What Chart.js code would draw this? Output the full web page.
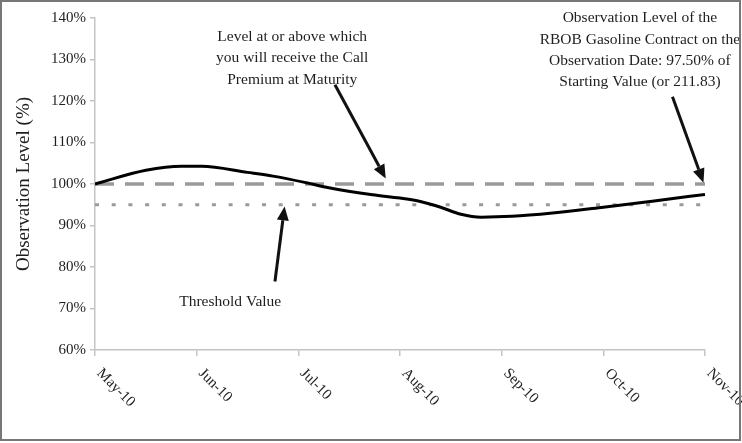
<!DOCTYPE html>
<html>
<head>
<meta charset="utf-8">
<script src="https://cdn.jsdelivr.net/npm/chart.js@4.4.1/dist/chart.umd.min.js"></script>
<style>
  html, body { margin: 0; padding: 0; background: #fff; }
  #wrap { position: relative; width: 742px; height: 443px; }
</style>
</head>
<body>
<div id="wrap"><canvas id="c" width="742" height="443"></canvas></div>
<script>
// ---- Data (x = months since May-10) ----
const xTickLabels = ['May-10', 'Jun-10', 'Jul-10', 'Aug-10', 'Sep-10', 'Oct-10', 'Nov-10'];
const obsMonths = [0, 0.5, 0.85, 1.05, 1.5, 1.75, 2.08, 2.3, 2.73, 3.0, 3.2, 3.4, 3.6, 3.8, 4.1, 4.5, 5.0, 5.5, 6.0];
const obsLevels = [100, 103.3, 104.3, 104.3, 102.8, 101.9, 100.3, 99.1, 97.4, 96.6, 95.8, 94.4, 92.7, 92.0, 92.2, 93.0, 94.4, 95.9, 97.5];
const callPremiumLevel = 100;
const thresholdLevel = 95;
const yTicks = [60, 70, 80, 90, 100, 110, 120, 130, 140];

// Annotations in data space (months, %)
const notes = [
  { lines: ['Level at or above which', 'you will receive the Call', 'Premium at Maturity'], x: 1.94, y: [135.4, 130.3, 125.1],
    arrow: { from: [2.36, 123.9], to: [2.86, 101.3] } },
  { lines: ['Observation Level of the', 'RBOB Gasoline Contract on the', 'Observation Date: 97.50% of', 'Starting Value (or 211.83)'], x: 5.36, y: [140.0, 134.8, 129.7, 124.6],
    arrow: { from: [5.68, 121.0], to: [5.985, 100.3] } },
  { lines: ['Threshold Value'], x: 1.33, y: [71.6],
    arrow: { from: [1.77, 76.5], to: [1.865, 94.6] } }
];

const serif = "'Liberation Serif', 'Times New Roman', serif";
const textColor = '#1e1e1e';

const obsData = obsMonths.map((m, i) => ({ x: m, y: obsLevels[i] }));
const flat = v => [{ x: 0, y: v }, { x: xTickLabels.length - 1, y: v }];

const overlay = {
  id: 'overlay',
  afterDraw(chart) {
    const ctx = chart.ctx, xs = chart.scales.x, ys = chart.scales.y;
    ctx.save();
    // x labels rotated down-right
    ctx.fillStyle = textColor;
    ctx.font = "15px " + serif;
    ctx.textAlign = 'left';
    ctx.textBaseline = 'middle';
    xTickLabels.forEach((lab, i) => {
      const px = xs.getPixelForValue(i);
      ctx.save();
      ctx.translate(px + 4, xs.top + 21);
      ctx.rotate(Math.PI / 4);
      ctx.fillText(lab, 0, 0);
      ctx.restore();
    });
    // notes
    ctx.font = "15.5px " + serif;
    ctx.textAlign = 'center';
    notes.forEach(n => {
      ctx.fillStyle = textColor;
      const cx = xs.getPixelForValue(n.x);
      n.lines.forEach((t, k) => ctx.fillText(t, cx, ys.getPixelForValue(n.y[k])));
      const x1 = xs.getPixelForValue(n.arrow.from[0]), y1 = ys.getPixelForValue(n.arrow.from[1]);
      const x2 = xs.getPixelForValue(n.arrow.to[0]), y2 = ys.getPixelForValue(n.arrow.to[1]);
      const ang = Math.atan2(y2 - y1, x2 - x1);
      const hl = 14, hw = 6;
      const bx = x2 - hl * Math.cos(ang), by = y2 - hl * Math.sin(ang);
      ctx.strokeStyle = '#111';
      ctx.lineWidth = 3;
      ctx.beginPath(); ctx.moveTo(x1, y1); ctx.lineTo(bx, by); ctx.stroke();
      ctx.fillStyle = '#111';
      ctx.beginPath();
      ctx.moveTo(x2, y2);
      ctx.lineTo(bx + hw * Math.sin(ang), by - hw * Math.cos(ang));
      ctx.lineTo(bx - hw * Math.sin(ang), by + hw * Math.cos(ang));
      ctx.closePath(); ctx.fill();
    });
    // outer frame
    ctx.strokeStyle = '#777';
    ctx.lineWidth = 2;
    ctx.strokeRect(1, 1, 739, 439);
    ctx.restore();
  },
  beforeDraw(chart) {
    const ctx = chart.ctx;
    ctx.save(); ctx.fillStyle = '#fff'; ctx.fillRect(0, 0, chart.width, chart.height); ctx.restore();
  }
};

new Chart(document.getElementById('c'), {
  type: 'line',
  data: {
    datasets: [
      { label: 'Observation Level', data: obsData, borderColor: '#000', borderWidth: 3, pointRadius: 0,
        cubicInterpolationMode: 'monotone', fill: false },
      { label: 'Call Premium Level', data: flat(callPremiumLevel), borderColor: '#9a9a9a', borderWidth: 3.5,
        borderDash: [19, 11], pointRadius: 0, fill: false },
      { label: 'Threshold Value', data: flat(thresholdLevel), borderColor: '#9a9a9a', borderWidth: 3,
        borderDash: [4, 12.7], pointRadius: 0, fill: false }
    ]
  },
  options: {
    responsive: false,
    animation: false,
    devicePixelRatio: 1,
    layout: { padding: { left: 0, right: 37, top: 18, bottom: 0 } },
    plugins: { legend: { display: false }, tooltip: { enabled: false } },
    scales: {
      x: {
        type: 'linear', min: 0, max: xTickLabels.length - 1,
        ticks: { display: false, stepSize: 1 },
        grid: { drawOnChartArea: false, drawTicks: true, tickLength: 6, color: '#c4c4c4', lineWidth: 1.5 },
        border: { display: true, color: '#c4c4c4', width: 1.5 },
        afterFit(s) { s.height = 443 - 350; }
      },
      y: {
        min: 60, max: 140,
        afterBuildTicks(s) { s.ticks = yTicks.map(v => ({ value: v })); },
        ticks: { callback: v => v + '%', font: { family: serif, size: 15 }, color: textColor, padding: 4 },
        grid: { drawOnChartArea: false, drawTicks: true, tickLength: 5, color: '#c4c4c4', lineWidth: 1.5 },
        border: { display: true, color: '#c4c4c4', width: 1.5 },
        title: { display: true, text: 'Observation Level (%)', font: { family: serif, size: 19 }, color: textColor,
          padding: { top: 13, bottom: 0 } },
        afterFit(s) { s.width = 95; }
      }
    }
  },
  plugins: [overlay]
});
</script>
</body>
</html>
